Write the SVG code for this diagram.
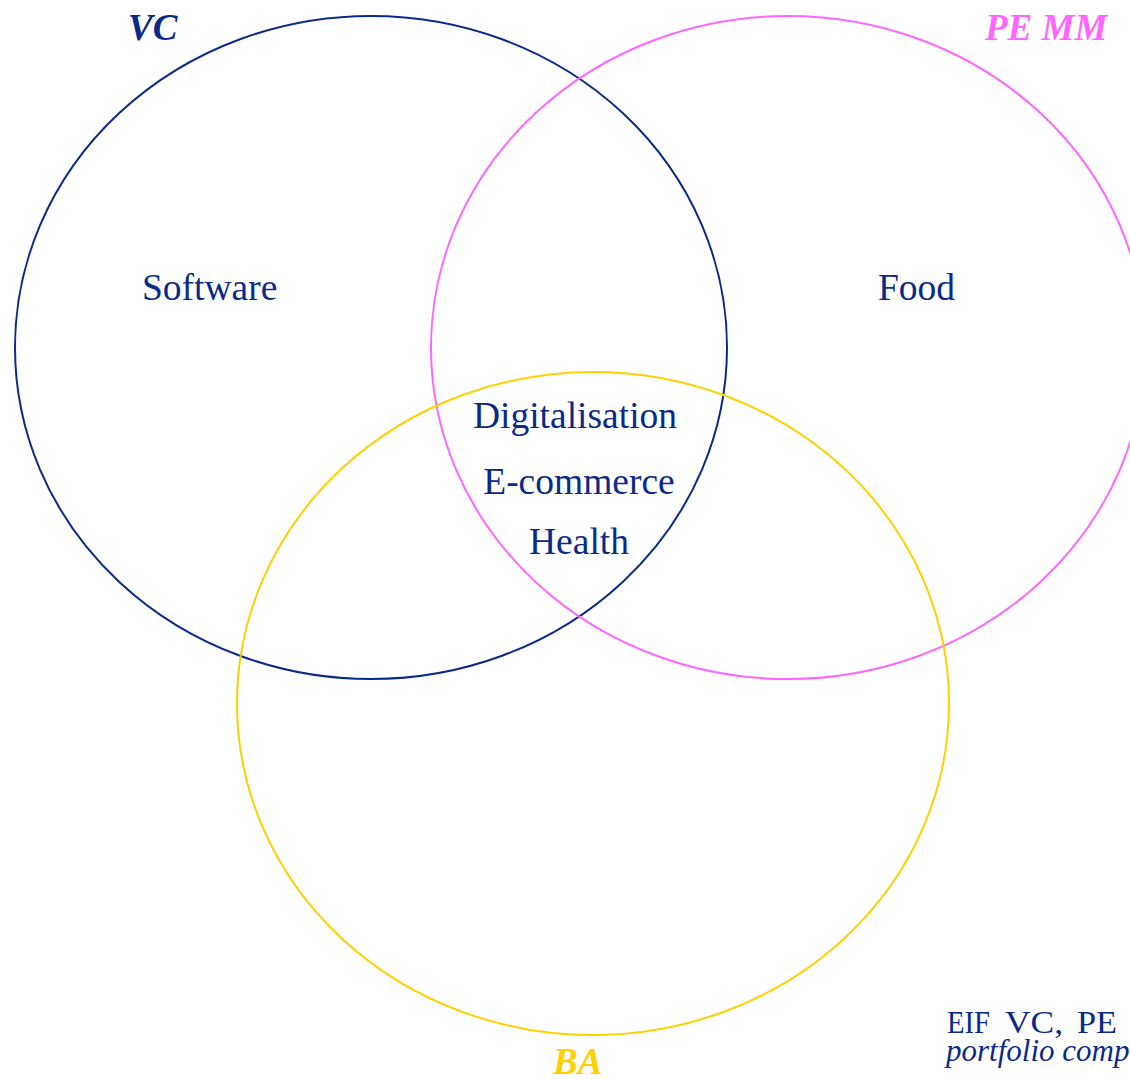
<svg xmlns="http://www.w3.org/2000/svg" width="1130" height="1079" viewBox="0 0 1130 1079">
<style>
.c{fill:none;stroke-width:2}
.t{font-family:"Liberation Serif",serif;font-size:37.5px;fill:#0B2A88}
.h{font-family:"Liberation Serif",serif;font-size:37px;font-weight:bold;font-style:italic}
.n{font-family:"Liberation Serif",serif;font-size:31px;fill:#0B2A88}
</style>
<rect width="1130" height="1079" fill="#fff"/>
<g id="vc">
<ellipse class="c" cx="371" cy="347.5" rx="356" ry="331.5" stroke="#0B2A88"/>
<text class="h" x="128" y="40" fill="#0B2A88">VC</text>
<text class="t" x="142" y="300">Software</text>
</g>
<g id="pemm">
<ellipse class="c" cx="788" cy="347.5" rx="357" ry="331.5" stroke="#FF66FF"/>
<text class="h" x="985" y="40" fill="#FF66FF">PE MM</text>
<text class="t" x="878" y="300">Food</text>
</g>
<g id="ba">
<ellipse class="c" cx="593" cy="703.5" rx="356" ry="331.5" stroke="#FFD000"/>
<text class="h" x="553" y="1074" fill="#FFD000">BA</text>
</g>
<g id="center">
<text class="t" x="575" y="428" text-anchor="middle">Digitalisation</text>
<text class="t" x="579" y="494" text-anchor="middle">E-commerce</text>
<text class="t" x="579" y="554" text-anchor="middle">Health</text>
</g>
<g id="note">
<text class="n" y="1033"><tspan x="947" textLength="43" lengthAdjust="spacingAndGlyphs">EIF</tspan><tspan x="1005" textLength="58" lengthAdjust="spacingAndGlyphs">VC,</tspan><tspan x="1077" textLength="40" lengthAdjust="spacingAndGlyphs">PE</tspan></text>
<text class="n" x="946" y="1061" font-size="33" font-style="italic">portfolio companies</text>
</g>
<g id="connectors"/>
</svg>
